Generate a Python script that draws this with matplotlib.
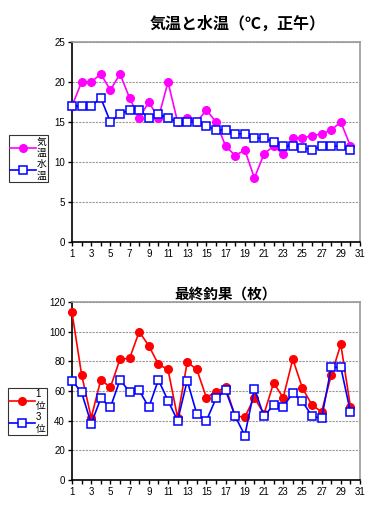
import numpy as np
import matplotlib
matplotlib.use('Agg')
import matplotlib.pyplot as plt
from matplotlib.ticker import MultipleLocator

plt.rcParams['font.family'] = ['Liberation Sans', 'Noto Sans CJK JP', 'DejaVu Sans']

days = list(range(1, 31))

# 気温 / 水温 (℃, noon)
air_temp = [17, 20, 20, 21, 19, 21, 18, 15.5, 17.5, 15.5,
            20, 15, 15.5, 15, 16.5, 15, 12, 10.8, 11.5, 8,
            11, 12, 11, 13, 13, 13.3, 13.5, 14, 15, 12]
water_temp = [17, 17, 17, 18, 15, 16, 16.5, 16.5, 15.5, 16,
              15.5, 15, 15, 15, 14.5, 14, 14, 13.5, 13.5, 13,
              13, 12.5, 12, 12, 11.8, 11.5, 12, 12, 12, 11.5]

# 最終釣果 (枚)
catch_1st = [113, 71, 42, 67.5, 62.5, 81.5, 82, 100, 90.5, 78,
             74.5, 42, 79.5, 74.5, 55.5, 59.5, 62.5, 43, 42.5, 55.5,
             44.5, 65.5, 55.5, 81.5, 62, 50.5, 46, 70.5, 91.5, 49.5]
catch_3rd = [67, 59, 38, 55, 49, 67.5, 59.5, 60.5, 49, 67.5,
             53.5, 40, 67, 44.5, 40, 55, 60.5, 43, 30, 61.5,
             43, 50.5, 49.5, 58.5, 53, 43, 41.5, 76, 76, 46]

W, H = 378, 525
fig = plt.figure(figsize=(W / 100, H / 100), dpi=100)


def setup(ax, ymax, ystep):
    ax.set_xlim(1, 31)
    ax.set_ylim(0, ymax)
    ax.set_xticks(range(1, 32, 2))
    ax.xaxis.set_minor_locator(MultipleLocator(1))
    ax.yaxis.set_major_locator(MultipleLocator(ystep))
    ax.tick_params(axis='both', which='major', labelsize=7, length=3, width=1, pad=2)
    ax.tick_params(axis='x', which='minor', length=3, width=1)
    ax.grid(axis='y', color='#999999', linestyle=(0, (2, 1)), linewidth=0.8)
    for s in ('top', 'right'):
        ax.spines[s].set_color('#999999')
        ax.spines[s].set_linestyle((0, (1, 1)))
        ax.spines[s].set_linewidth(1.2)
    for s in ('left', 'bottom'):
        ax.spines[s].set_linewidth(1.2)
    ax.set_axisbelow(True)


def legend(handles, labels, x, y, fam):
    leg = fig.legend(handles, labels, loc='upper left',
                     bbox_to_anchor=(x / W, 1 - y / H), frameon=True,
                     fancybox=False, handlelength=2.6, handletextpad=0.1,
                     borderpad=0.15, labelspacing=0.1, borderaxespad=0,
                     prop={'family': fam, 'size': 7})
    leg.get_frame().set_edgecolor('black')
    leg.get_frame().set_linewidth(0.8)
    return leg


# top chart
ax1 = fig.add_axes([72 / W, 1 - 242 / H, 288 / W, 200 / H])
setup(ax1, 25, 5)
l1, = ax1.plot(days, air_temp, color='#FF00FF', lw=1.2, marker='o', ms=5.5,
               mfc='#FF00FF', mec='#FF00FF', clip_on=False, zorder=3)
l2, = ax1.plot(days, water_temp, color='#0000FF', lw=1.2, marker='s', ms=5.5,
               mfc='white', mec='#0000FF', mew=1.1, clip_on=False, zorder=4)
fig.text(238 / W, 1 - 24 / H, '気温と水温（℃，正午）', ha='center', va='center',
         fontsize=11.5, fontweight='bold', family=['Noto Sans CJK JP'])
legend([l1, l2], ['気\n温', '水\n温'], 9, 135, ['Noto Sans CJK JP'])

# bottom chart
ax2 = fig.add_axes([72 / W, 1 - 480 / H, 288 / W, 178 / H])
setup(ax2, 120, 20)
l3, = ax2.plot(days, catch_1st, color='#FF0000', lw=1.2, marker='o', ms=5.5,
               mfc='#FF0000', mec='#FF0000', clip_on=False, zorder=3)
l4, = ax2.plot(days, catch_3rd, color='#0000FF', lw=1.2, marker='s', ms=5.5,
               mfc='white', mec='#0000FF', mew=1.1, clip_on=False, zorder=4)
fig.text(226 / W, 1 - 294 / H, '最終釣果（枚）', ha='center', va='center',
         fontsize=10.5, fontweight='bold', family=['Noto Sans CJK JP'])
legend([l3, l4], ['1\n位', '3\n位'], 8, 388, ['Liberation Sans', 'Noto Sans CJK JP'])

fig.savefig('out.png', dpi=100)
